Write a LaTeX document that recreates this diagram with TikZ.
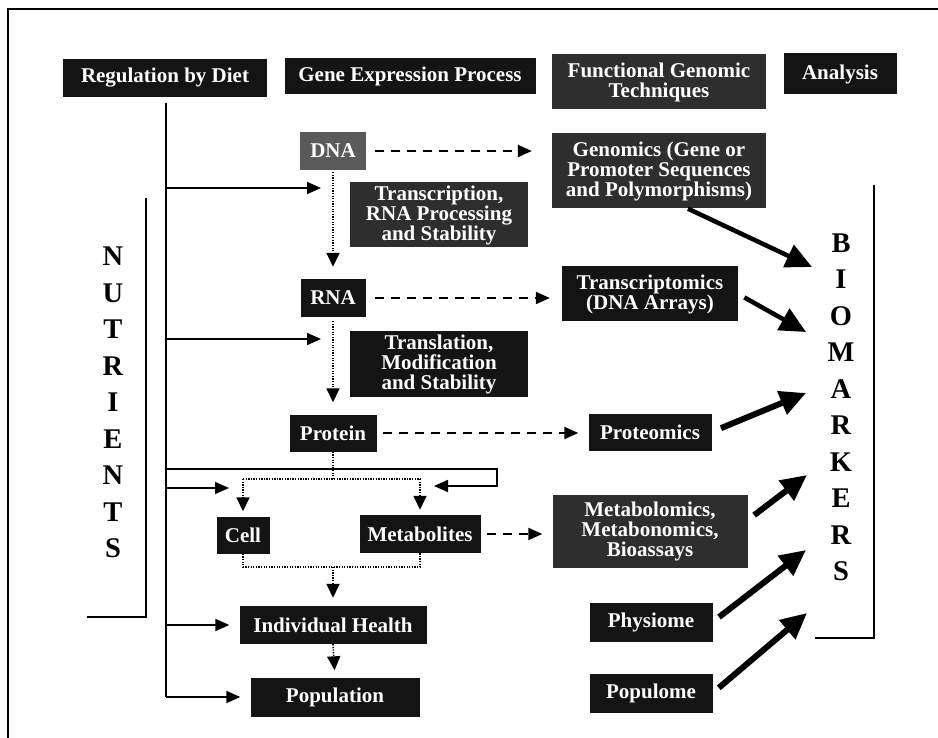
\documentclass[tikz,border=0pt]{standalone}
\usepackage{fontspec}
\setmainfont{Liberation Serif}
\usetikzlibrary{arrows.meta,calc}
\definecolor{boxA}{HTML}{141414}
\definecolor{boxB}{HTML}{2E2E2E}
\definecolor{boxC}{HTML}{5A5A5A}
\begin{document}
\begin{tikzpicture}[x=1pt,y=-1pt,
  bx/.style={fill=boxA, text=white, font=\fontsize{21}{20}\selectfont\bfseries, align=center, inner sep=0pt},
  bxg/.style={bx, fill=boxB},
  bxl/.style={bx, fill=boxC},
  ln/.style={line width=1.8pt, draw=black},
  lnarrow/.style={ln, -{Triangle[length=14pt,width=12pt]}},
  dotln/.style={line width=1.6pt, dash pattern=on 1.3pt off 1.3pt},
  dotarrow/.style={dotln, -{Triangle[length=14pt,width=13pt]}},
  dasharrow/.style={line width=2.2pt, dash pattern=on 9pt off 7pt, -{Triangle[length=14pt,width=12pt]}},
  bigarrow/.style={line width=6pt, -{Triangle[length=26pt,width=24pt]}},
  brk/.style={line width=2.4pt},
  big/.style={font=\fontsize{28.5}{36.5}\selectfont\bfseries, align=center, inner sep=0pt}
]
\useasboundingbox (0,0) rectangle (938,738);
\fill[white] (0,0) rectangle (938,738);

% frame
\coordinate (f0) at (8,9);
\coordinate (f1) at (938,9);
\coordinate (f2) at (8,738);
\draw[line width=2pt] (f1) -- (f0) -- (f2);

% headers
\node[bx, minimum width=204pt, minimum height=38pt] (hReg) at (165,78) {Regulation by Diet};
\node[bx, minimum width=251pt, minimum height=36pt] (hGene) at (410,76) {Gene Expression Process};
\node[bxg, minimum width=214pt, minimum height=55pt] (hFunc) at (659,82) {Functional Genomic\\Techniques};
\node[bx, minimum width=113pt, minimum height=41pt] (hAna) at (840,74) {Analysis};

% gene expression column
\node[bxl, minimum width=66pt, minimum height=38pt] (dna) at (333,151) {DNA};
\node[bxg, minimum width=178pt, minimum height=65pt] (trA) at (439,215) {Transcription,\\RNA Processing\\and Stability};
\node[bx, minimum width=65pt, minimum height=38pt] (rna) at (333,298) {RNA};
\node[bx, minimum width=178pt, minimum height=65pt] (trB) at (439,364) {Translation,\\Modification\\and Stability};
\node[bx, minimum width=87pt, minimum height=37pt] (prot) at (333,433) {Protein};
\node[bx, minimum width=53pt, minimum height=37pt] (cell) at (243,535) {Cell};
\node[bx, minimum width=121pt, minimum height=38pt] (metab) at (420,534) {Metabolites};
\node[bx, minimum width=187pt, minimum height=38pt] (health) at (333,625) {Individual Health};
\node[bx, minimum width=169pt, minimum height=39pt] (popu) at (335,697) {Population};

% techniques column
\node[bxg, minimum width=214pt, minimum height=75pt] (genomics) at (659,171) {Genomics (Gene or\\Promoter Sequences\\and Polymorphisms)};
\node[bx, minimum width=176pt, minimum height=55pt] (transc) at (650,294) {Transcriptomics\\(DNA Arrays)};
\node[bx, minimum width=123pt, minimum height=37pt] (proteo) at (650,432) {Proteomics};
\node[bxg, minimum width=195pt, minimum height=73pt] (metabo) at (650,531) {Metabolomics,\\Metabonomics,\\Bioassays};
\node[bx, minimum width=123pt, minimum height=39pt] (physio) at (651,622) {Physiome};
\node[bx, minimum width=123pt, minimum height=39pt] (populo) at (651,693) {Populome};

% vertical words
\node[big] (nutr) at (113,402.5) {N\\U\\T\\R\\I\\E\\N\\T\\S};
\node[big] (biom) at (841,407.5) {B\\I\\O\\M\\A\\R\\K\\E\\R\\S};

% brackets
\coordinate (n1) at (146,198);
\coordinate (n2) at (146,617);
\coordinate (n3) at (87,617);
\draw[brk] (n1) -- (n2) -- (n3);
\coordinate (m1) at (874,185);
\coordinate (m2) at (874,638);
\coordinate (m3) at (815,638);
\draw[brk] (m1) -- (m2) -- (m3);

% regulation trunk and branches
\coordinate (t0) at (166,103);
\coordinate (t1) at (166,697);
\draw[ln] (t0) -- (t1);
\coordinate (a1) at (166,188);
\coordinate (a1e) at (321,188);
\draw[lnarrow] (a1) -- (a1e);
\coordinate (a2) at (166,339);
\coordinate (a2e) at (321,339);
\draw[lnarrow] (a2) -- (a2e);
\coordinate (c0) at (166,469);
\coordinate (c1) at (497,486);
\coordinate (c2) at (434,486);
\draw[lnarrow] (c0) -| (c1) -- (c2);
\coordinate (c3) at (166,488);
\coordinate (c4) at (229,488);
\draw[lnarrow] (c3) -- (c4);
\draw[lnarrow, shorten >=10pt] (health.west -| t0) -- (health.west);
\draw[lnarrow, shorten >=10pt] (popu.west -| t0) -- (popu.west);

% dotted flow
\draw[dotarrow, shorten <=2pt, shorten >=12pt] (dna.south) -- (rna.north);
\draw[dotarrow, shorten <=4pt, shorten >=12pt] (rna.south) -- (prot.north);
\coordinate (s1) at (333,479);
\draw[dotln] (prot.south) -- (s1);
\draw[dotln] (cell.north |- s1) -- (metab.north |- s1);
\draw[dotarrow, shorten >=5pt] (cell.north |- s1) -- (cell.north);
\draw[dotarrow, shorten >=5pt] (metab.north |- s1) -- (metab.north);
\coordinate (s2) at (333,567);
\draw[dotln] (cell.south) -- (cell.south |- s2) -- (metab.south |- s2) -- (metab.south);
\draw[dotarrow, shorten >=8pt] (s2) -- (health.north);
\draw[dotarrow, shorten >=7pt] (health.south) -- (popu.north);

% dashed flow
\draw[dasharrow, shorten <=9pt, shorten >=20pt] (dna.east) -- (dna.east -| genomics.west);
\draw[dasharrow, shorten <=9pt, shorten >=12pt] (rna.east) -- (rna.east -| transc.west);
\draw[dasharrow, shorten <=6pt, shorten >=10pt] (prot.east) -- (prot.east -| proteo.west);
\draw[dasharrow, shorten <=6pt, shorten >=10pt] (metab.east) -- (metab.east -| metabo.west);

% thick arrows to biomarkers
\coordinate (b1) at (812,267);
\coordinate (b2) at (806,332);
\coordinate (b3) at (806,393);
\coordinate (b4) at (807,475);
\coordinate (b5) at (806,550);
\coordinate (b6) at (807,613);
\draw[bigarrow, line width=4.5pt] ($(genomics.south)+(29,0)$) -- (b1);
\draw[bigarrow, line width=4.5pt, shorten <=7pt] (transc.east) -- (b2);
\draw[bigarrow, shorten <=10pt] (proteo.east) -- (b3);
\draw[bigarrow, shorten <=8pt] ($(metabo.east)+(0,-11)$) -- (b4);
\draw[bigarrow, shorten <=8pt] (physio.east) -- (b5);
\draw[bigarrow, shorten <=8pt] (populo.east) -- (b6);
\end{tikzpicture}
\end{document}
